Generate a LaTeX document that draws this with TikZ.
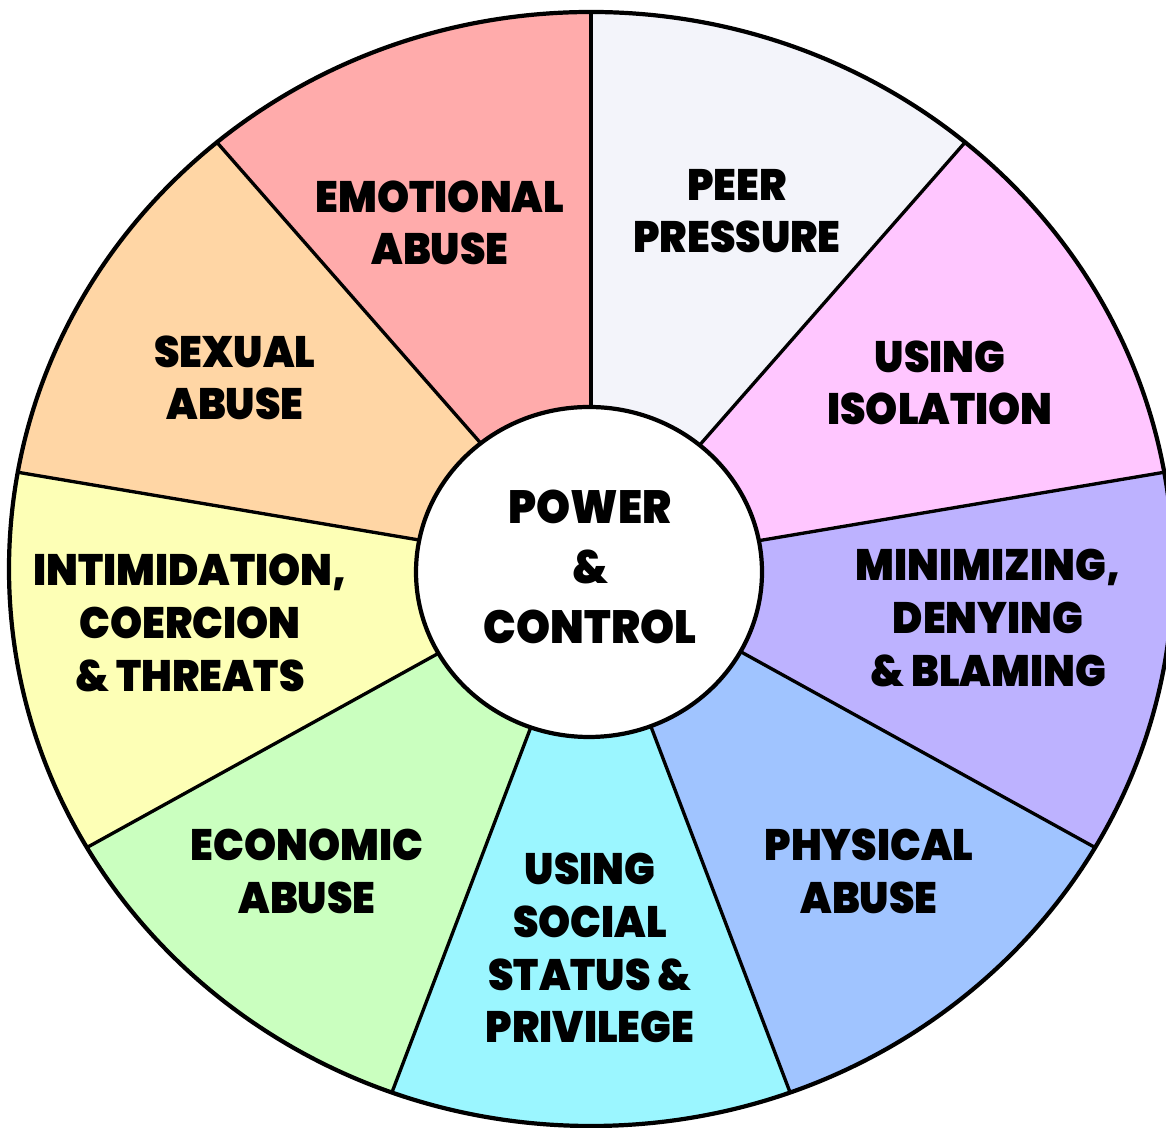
\documentclass[tikz,border=0pt]{standalone}
\usepackage{fontspec}
\setmainfont{Poppins}[BoldFont=* Black, BoldFeatures={FakeStretch=0.93}]
\usetikzlibrary{positioning}
\definecolor{emocol}{HTML}{FFABAB}
\definecolor{peercol}{HTML}{F3F4FA}
\definecolor{isocol}{HTML}{FFC6FF}
\definecolor{mincol}{HTML}{BDB2FF}
\definecolor{physcol}{HTML}{A0C4FF}
\definecolor{socialcol}{HTML}{9BF6FF}
\definecolor{econcol}{HTML}{CAFFBF}
\definecolor{intcol}{HTML}{FDFFB6}
\definecolor{sexcol}{HTML}{FFD6A5}

\tikzset{
  rim/.style={draw=black,line width=2.4pt},
  spoke/.style={draw=black,line width=1.9pt},
  slicetext/.style={font=\bfseries\fontsize{25}{30}\selectfont,align=center,text=black,inner sep=0pt},
  hubtext/.style={font=\bfseries\fontsize{26.5}{34}\selectfont,align=center,text=black,inner sep=0pt}
}

\begin{document}
\begin{tikzpicture}[x=0.02cm,y=0.02cm]
    \useasboundingbox (0,0) rectangle (1166,1128);
    \coordinate (hub) at (591,559);
    % the nine coloured slices
    \foreach \a/\col in {90/emocol, 50/peercol, 10/isocol, -30/mincol, -70/physcol,
                         -110/socialcol, -150/econcol, 170/intcol, 130/sexcol}{
      \fill[\col] (hub) -- ++(\a:582 and 557)
        arc[start angle=\a, delta angle=40, x radius=582, y radius=557] -- cycle;}
    \foreach \a in {90,50,10,-30,-70,-110,-150,170,130}{
      \draw[spoke] (hub) -- ++(\a:582 and 557);}
    \draw[rim] (hub) ellipse[x radius=582, y radius=557];
    % centre disc
    \draw[rim,fill=white] (589,556) ellipse[x radius=173, y radius=165];
    \node[hubtext] (power) at (590,561) {POWER\\\&\\CONTROL};
    % slice labels
    \node[slicetext] (emotional) at (440,905) {EMOTIONAL\\ABUSE};
    \node[slicetext] (peer) at (737,917) {PEER\\PRESSURE};
    \node[slicetext] (isolation) at (940,745) {USING\\ISOLATION};
    \node[slicetext] (minimizing) at (988,510) {MINIMIZING,\\DENYING\\\& BLAMING};
    \node[slicetext] (physical) at (869,257) {PHYSICAL\\ABUSE};
    \node[slicetext] (social) at (590,180) {USING\\SOCIAL\\STATUS \&\\PRIVILEGE};
    \node[slicetext] (economic) at (307,257) {ECONOMIC\\ABUSE};
    \node[slicetext] (intimidation) at (190,505) {INTIMIDATION,\\COERCION\\\& THREATS};
    \node[slicetext] (sexual) at (235,750) {SEXUAL\\ABUSE};
\end{tikzpicture}
\end{document}
